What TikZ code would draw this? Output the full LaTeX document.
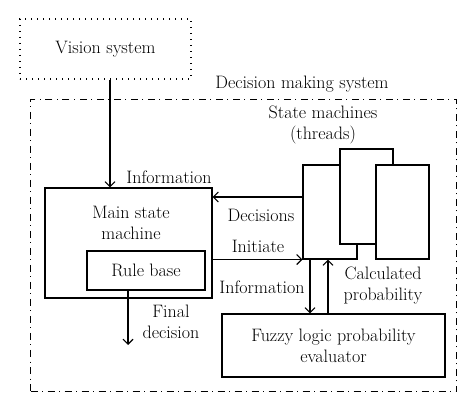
\documentclass[tikz,border=0pt]{standalone}
\usetikzlibrary{arrows.meta}
\tikzset{
  box/.style={draw, line width=1.1pt, rectangle, inner sep=0pt},
  lbl/.style={align=center, inner sep=0pt, font=\fontsize{18}{21}\selectfont},
  arr/.style={line width=1.1pt, -{Straight Barb[length=5pt,width=10pt,line width=1.1pt]}}
}
\begin{document}
\begin{tikzpicture}[x=1pt,y=-1pt]
      \useasboundingbox (0,0) rectangle (474,411);
      \draw
        (243.5,246) node[box, dash pattern=on 7pt off 4.5pt on 1pt off 4.5pt, line width=1pt, minimum width=426pt, minimum height=292pt] (dms){}
        (105.5,49) node[box, dash pattern=on 1.3pt off 4.7pt, line width=1.3pt, minimum width=171pt, minimum height=60pt, lbl] (vision){Vision system}
        (302,84) node[lbl] (dmslabel){Decision making system}
        (128.5,243) node[box, minimum width=167pt, minimum height=110pt] (main){}
        (131,223) node[lbl] (mainlabel){Main state\\machine}
        (146,270.5) node[box, minimum width=118pt, minimum height=39pt, lbl] (rule){Rule base}
        (330,212) node[box, fill=white, minimum width=54pt, minimum height=94pt] (sm1){}
        (366.5,196.5) node[box, fill=white, minimum width=53pt, minimum height=95pt] (sm2){}
        (402.5,212) node[box, fill=white, minimum width=53pt, minimum height=94pt] (sm3){}
        (323,125) node[lbl] (smlabel){State machines\\(threads)}
        (333.5,345.5) node[box, minimum width=223pt, minimum height=63pt, lbl] (fuzzy){Fuzzy logic probability\\evaluator};
      \coordinate (vinx) at (110,0);
      \coordinate (decy) at (0,197);
      \coordinate (infx) at (310,0);
      \coordinate (calx) at (328,0);
      \coordinate (finx) at (128,0);
      \coordinate (finend) at (128,345);
      \begin{scope}[arr]
        \draw (vision.south -| vinx) to (main.north -| vinx);
        \draw (sm1.west |- decy) to (main.east |- decy);
        \draw (main.east |- sm1.south) to (sm1.south west);
        \draw (sm1.south -| infx) to (fuzzy.north -| infx);
        \draw (fuzzy.north -| calx) to (sm1.south -| calx);
        \draw (rule.south -| finx) to (finend);
      \end{scope}
      \draw
        (169,177) node[lbl] (infolabel){Information}
        (261,215) node[lbl] (declabel){Decisions}
        (258,246) node[lbl] (inilabel){Initiate}
        (262,287) node[lbl] (inflabel){Information}
        (383,286) node[lbl] (callabel){Calculated\\probability}
        (171,322) node[lbl] (finlabel){Final\\decision};
    \end{tikzpicture}
\end{document}
